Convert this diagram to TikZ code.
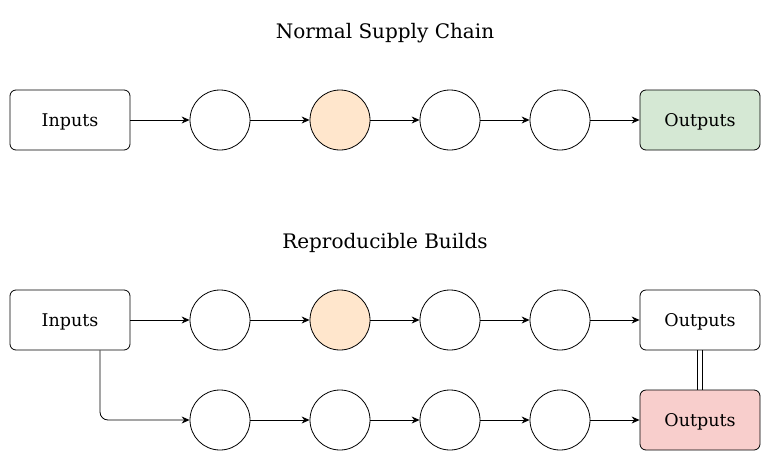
\documentclass[tikz,border=0pt]{standalone}
\usepackage{fontspec}
\setmainfont{DejaVu Serif}
\usetikzlibrary{arrows.meta}
\definecolor{orangefill}{HTML}{FFE6CC}
\definecolor{greenfill}{HTML}{D5E8D4}
\definecolor{redfill}{HTML}{F8CECC}
\begin{document}
\begin{tikzpicture}[x=1pt,y=-1pt,
  boxnode/.style={draw=black, rounded corners=6pt, minimum width=120pt, minimum height=60pt, inner sep=0pt, text depth=0pt, font=\fontsize{17.5}{20}\selectfont, line width=0.8pt},
  stepnode/.style={draw=black, circle, minimum size=60pt, inner sep=0pt, line width=0.8pt},
  titlenode/.style={font=\fontsize{20}{24}\selectfont, text depth=0pt},
  conn/.style={-{Stealth[length=8pt,width=7pt]}, line width=0.8pt},
  eqline/.style={line width=0.8pt}
]
\useasboundingbox (0,0) rectangle (771,461);
\node[titlenode] (t1) at (385,31) {Normal Supply Chain};
\node[titlenode] (t2) at (385,241) {Reproducible Builds};
% row 1
\node[boxnode] (in1) at (70,120) {Inputs};
\node[stepnode] (a1) at (220,120) {};
\node[stepnode, fill=orangefill] (a2) at (340,120) {};
\node[stepnode] (a3) at (450,120) {};
\node[stepnode] (a4) at (560,120) {};
\node[boxnode, fill=greenfill] (out1) at (700,120) {Outputs};
\draw[conn] (in1) -- (a1);
\draw[conn] (a1) -- (a2);
\draw[conn] (a2) -- (a3);
\draw[conn] (a3) -- (a4);
\draw[conn] (a4) -- (out1);
% row 2
\node[boxnode] (in2) at (70,320) {Inputs};
\node[stepnode] (b1) at (220,320) {};
\node[stepnode, fill=orangefill] (b2) at (340,320) {};
\node[stepnode] (b3) at (450,320) {};
\node[stepnode] (b4) at (560,320) {};
\node[boxnode] (out2) at (700,320) {Outputs};
\draw[conn] (in2) -- (b1);
\draw[conn] (b1) -- (b2);
\draw[conn] (b2) -- (b3);
\draw[conn] (b3) -- (b4);
\draw[conn] (b4) -- (out2);
% row 3
\node[stepnode] (c1) at (220,420) {};
\node[stepnode] (c2) at (340,420) {};
\node[stepnode] (c3) at (450,420) {};
\node[stepnode] (c4) at (560,420) {};
\node[boxnode, fill=redfill] (out3) at (700,420) {Outputs};
\draw[conn, rounded corners=8pt] ([xshift=30pt]in2.south) |- (c1.west);
\draw[conn] (c1) -- (c2);
\draw[conn] (c2) -- (c3);
\draw[conn] (c3) -- (c4);
\draw[conn] (c4) -- (out3);
\draw[eqline] ([xshift=-2.2pt]out2.south) -- ([xshift=-2.2pt]out3.north);
\draw[eqline] ([xshift=2.2pt]out2.south) -- ([xshift=2.2pt]out3.north);
\end{tikzpicture}
\end{document}
